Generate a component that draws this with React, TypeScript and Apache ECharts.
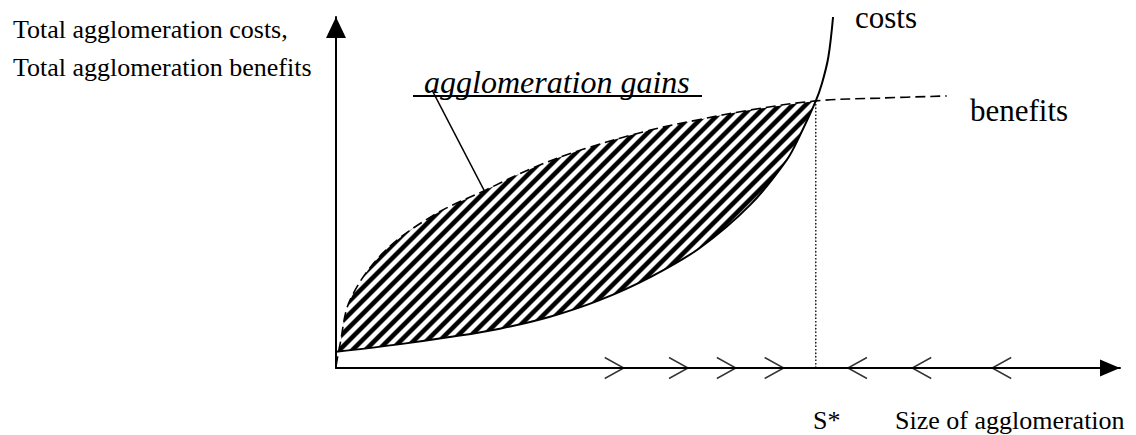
import React, { useEffect, useRef } from "react";
import * as echarts from "echarts";

// Size of agglomeration (x, 0..100) and total benefits / costs (y, 0..100)
const benefitsX = [0, 0.5, 1.8, 6.0, 12.4, 19.0, 25.1, 31.5, 40.1, 46.4, 52.8, 61.2, 69.4, 77.9];
const benefitsY = [0.5, 6.6, 19.4, 32.8, 43.5, 50.6, 57.0, 62.3, 67.8, 70.8, 73.5, 76.1, 76.9, 77.5];
const costsX = [0, 8.2, 14.5, 20.9, 27.3, 33.7, 40.1, 46.4, 52.8, 57.5, 59.2, 61.2, 62.0, 62.8, 63.4];
const costsY = [4.6, 6.8, 8.8, 11.2, 14.6, 19.4, 25.9, 34.2, 46.4, 59.3, 66.4, 76.1, 81.2, 88.6, 100];
const sStar = 61.2;
const sStarY = 76.1;
const rightArrows = [36.7, 44.9, 51.0, 57.1];
const leftArrows = [65.3, 73.5, 83.7];

const yLabels = ["Total agglomeration costs,", "Total agglomeration benefits"];
const xLabel = "Size of agglomeration";
const sStarLabel = "S*";
const gainsLabel = "agglomeration gains";
const costsLabel = "costs";
const benefitsLabel = "benefits";

const SERIF = "Liberation Serif";

function makeHatch(): HTMLCanvasElement {
  const P = 13;
  const c = document.createElement("canvas");
  c.width = P;
  c.height = P;
  const ctx = c.getContext("2d")!;
  const img = ctx.createImageData(P, P);
  for (let y = 0; y < P; y++) {
    for (let x = 0; x < P; x++) {
      const t = ((x + y) % P + 0.5) / P;
      const g = Math.cos(2 * Math.PI * t);
      let v = 0.5 - g * 1.1;
      v = Math.max(0, Math.min(1, v));
      const val = Math.round(255 * v);
      const i = (y * P + x) * 4;
      img.data[i] = val;
      img.data[i + 1] = val;
      img.data[i + 2] = val;
      img.data[i + 3] = 255;
    }
  }
  ctx.putImageData(img, 0, 0);
  return c;
}

const zip = (xs: number[], ys: number[]) => xs.map((x, i) => [x, ys[i]]);

const txt = (text: string, left: number, top: number, size: number, italic = false) => ({
  type: "text",
  left,
  top,
  style: {
    text,
    fontFamily: SERIF,
    fontSize: size,
    fontStyle: italic ? "italic" : "normal",
    fill: "#000",
  },
});

export default function App() {
  const ref = useRef<HTMLDivElement>(null);
  useEffect(() => {
    document.body.style.margin = "0";
    const chart = echarts.init(ref.current!, null, { renderer: "svg" });
    const hatch = makeHatch();
    const benefits = zip(benefitsX, benefitsY);
    const costs = zip(costsX, costsY);
    const benefitsGain = benefits.filter((p) => p[0] <= sStar);
    const costsGain = costs.filter((p) => p[0] <= sStar);

    chart.setOption({
      animation: false,
      grid: { left: 336, right: 16, top: 17, bottom: 67 },
      xAxis: {
        type: "value",
        min: 0,
        max: 100,
        z: 10,
        axisLine: {
          lineStyle: { color: "#000", width: 2 },
          symbol: ["none", "triangle"],
          symbolSize: [17, 20],
          symbolOffset: [0, -10],
        },
        axisTick: { show: false },
        axisLabel: { show: false },
        splitLine: { show: false },
      },
      yAxis: {
        type: "value",
        min: 0,
        max: 100,
        z: 10,
        axisLine: {
          show: true,
          lineStyle: { color: "#000", width: 2 },
          symbol: ["none", "triangle"],
          symbolSize: [20, 21],
          symbolOffset: [0, -10.5],
        },
        axisTick: { show: false },
        axisLabel: { show: false },
        splitLine: { show: false },
      },
      series: [
        {
          type: "line",
          name: "gains",
          data: benefitsGain,
          smooth: 0.35,
          showSymbol: false,
          silent: true,
          z: 1,
          lineStyle: { width: 0 },
          areaStyle: {
            opacity: 1,
            color: { image: hatch, repeat: "repeat", imageWidth: 13, imageHeight: 13 } as any,
          },
        },
        {
          type: "line",
          name: "costsMask",
          data: costsGain,
          smooth: 0.35,
          showSymbol: false,
          silent: true,
          z: 2,
          lineStyle: { width: 0 },
          areaStyle: { opacity: 1, color: "#fff" },
        },
        {
          type: "line",
          name: "benefits",
          data: benefits,
          smooth: 0.35,
          showSymbol: false,
          clip: false,
          z: 3,
          lineStyle: { color: "#000", width: 1.6, type: [10, 5] },
        },
        {
          type: "line",
          name: "costs",
          data: costs,
          smooth: 0.35,
          showSymbol: false,
          clip: false,
          z: 3,
          lineStyle: { color: "#000", width: 2 },
        },
        {
          type: "line",
          name: "sStar",
          data: [
            [sStar, 0],
            [sStar, sStarY],
          ],
          showSymbol: false,
          z: 3,
          lineStyle: { color: "#000", width: 1.3, type: [1.5, 2] },
        },
        {
          type: "scatter",
          name: "toRight",
          data: rightArrows.map((x) => [x, 0]),
          symbol: "path://M0,0 L19,10 L0,20",
          symbolSize: [19, 21],
          symbolOffset: [-9.5, 0],
          clip: false,
          z: 11,
          itemStyle: { color: "none", borderColor: "#000", borderWidth: 1.5 },
        },
        {
          type: "scatter",
          name: "toLeft",
          data: leftArrows.map((x) => [x, 0]),
          symbol: "path://M19,0 L0,10 L19,20",
          symbolSize: [19, 21],
          symbolOffset: [9.5, 0],
          clip: false,
          z: 11,
          itemStyle: { color: "none", borderColor: "#000", borderWidth: 1.5 },
        },
      ],
      graphic: [
        txt(yLabels[0], 13, 16, 26),
        txt(yLabels[1], 13, 54, 26),
        txt(gainsLabel, 424, 66, 32, true),
        {
          type: "line",
          shape: { x1: 413, y1: 96, x2: 702, y2: 96 },
          style: { stroke: "#000", lineWidth: 2 },
        },
        {
          type: "line",
          shape: { x1: 432, y1: 90, x2: 486, y2: 194 },
          style: { stroke: "#000", lineWidth: 1.6 },
        },
        txt(costsLabel, 855, 2, 31),
        txt(benefitsLabel, 970, 95, 31),
        txt(sStarLabel, 813, 407, 26),
        txt(xLabel, 895, 407, 26),
      ],
    });
    return () => chart.dispose();
  }, []);
  return <div ref={ref} style={{ width: 1136, height: 435 }} />;
}
